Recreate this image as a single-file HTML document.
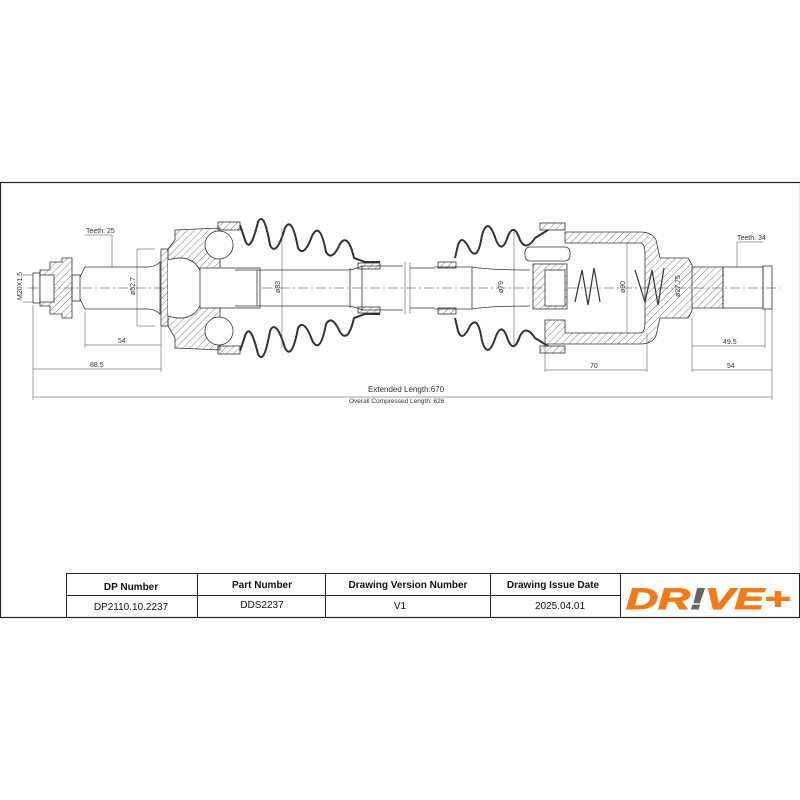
<!DOCTYPE html>
<html><head><meta charset="utf-8"><style>
body{margin:0;background:#fff;width:800px;height:800px;overflow:hidden;font-family:"Liberation Sans",sans-serif}
svg{position:absolute;left:0;top:0}
</style></head><body>
<svg width="800" height="800" viewBox="0 0 800 800" xmlns="http://www.w3.org/2000/svg">
<defs>
<pattern id="h" width="5" height="5" patternUnits="userSpaceOnUse" patternTransform="rotate(45)">
<line x1="0" y1="0" x2="0" y2="5" stroke="#444" stroke-width="0.7"/></pattern>
</defs>
<rect x="0.5" y="182.5" width="800" height="435" fill="none" stroke="#222" stroke-width="1.2"/>
<g stroke="#333" fill="none" stroke-width="0.8">
<line x1="28" y1="288" x2="780" y2="288" stroke-dasharray="10,3,2,3" stroke-width="0.5"/>
<rect x="33" y="273" width="7" height="30"/>
<path d="M40 270 H50 V262 H62 V258 H72 V318 H62 V314 H50 V306 H40 Z" fill="url(#h)"/>
<rect x="40" y="275" width="14" height="27" fill="#fff"/>
<rect x="72" y="275" width="8" height="26"/>
<path d="M80 277 L85 267 H148 Q155 267 160 262 V314 Q155 309 148 309 H85 L80 299"/>
<rect x="161" y="249" width="7" height="77" fill="url(#h)"/>
<path d="M168 249 L175 240 V230 L220 228 V350 L175 348 V338 L168 326 Z" fill="url(#h)"/>
<path d="M168 260 Q200 250 205 288 Q200 326 168 316" fill="#fff"/>
<circle cx="219" cy="245" r="14" fill="#fff"/>
<circle cx="219" cy="331" r="14" fill="#fff"/>
<rect x="200" y="268" width="60" height="40" fill="#fff"/>
<rect x="218" y="222" width="22" height="8" fill="url(#h)"/>
<rect x="218" y="346" width="22" height="8" fill="url(#h)"/>
<g stroke-width="2">
<path d="M240 225 L245 240 Q250 255 258 222 Q264 210 270 245 Q276 258 285 228 Q292 215 298 248 Q304 258 312 236 Q320 220 326 252 Q332 262 340 244 Q348 232 354 258 L365 262 H380"/>
<path d="M240 351 L245 336 Q250 321 258 354 Q264 366 270 331 Q276 318 285 348 Q292 361 298 328 Q304 318 312 340 Q320 356 326 324 Q332 314 340 332 Q348 344 354 318 L365 314 H380"/>
</g>
<rect x="358" y="263" width="22" height="6" fill="url(#h)"/>
<rect x="358" y="307" width="22" height="6" fill="url(#h)"/>
<path d="M235 270 H350 Q358 268 362 266 H403 M235 306 H350 Q358 308 362 310 H403"/>
<line x1="257" y1="270" x2="257" y2="306"/>
<line x1="350" y1="268" x2="350" y2="308"/>
<line x1="362" y1="266" x2="362" y2="310"/>
<line x1="405" y1="262" x2="405" y2="314" stroke-width="0.5"/><line x1="410" y1="262" x2="410" y2="314" stroke-width="0.5"/>
<path d="M410 268 H435 M410 308 H435"/>
<path d="M435 267 H472 Q490 270 530 270 M435 309 H472 Q490 306 530 306"/>
<line x1="472" y1="267" x2="472" y2="309"/>
<g stroke-width="2">
<path d="M455 258 L458 245 Q462 233 470 250 Q478 262 482 235 Q488 215 496 240 Q502 255 508 236 Q514 222 520 240 Q526 252 535 238 L548 230"/>
<path d="M455 318 L458 331 Q462 343 470 326 Q478 314 482 341 Q488 361 496 336 Q502 321 508 340 Q514 354 520 336 Q526 324 535 338 L548 346"/>
</g>
<rect x="438" y="262" width="18" height="6" fill="url(#h)"/>
<rect x="438" y="308" width="18" height="6" fill="url(#h)"/>
<rect x="540" y="223" width="25" height="7" fill="url(#h)"/>
<rect x="540" y="346" width="25" height="7" fill="url(#h)"/>
<path d="M565 232 H640 Q652 232 656 240 L660 258 H688 L692 265 V311 L688 318 H660 L656 336 Q652 344 640 344 H545 V320 H565 V333 H640 Q645 333 645 322 V254 Q645 243 640 243 H565 Z" fill="url(#h)"/>
<rect x="525" y="247" width="45" height="14" rx="5" fill="#fff"/>
<rect x="533" y="264" width="34" height="45" fill="url(#h)"/>
<rect x="545" y="270" width="20" height="36" fill="#fff"/>
<path d="M575 302 L582 270 L588 305 L594 268 L600 302" stroke-width="1.2"/>
<path d="M635 270 L645 302 L652 270 L658 305 L664 268" stroke-width="1.2"/>
<path d="M692 267 H723 V308 H692" fill="url(#h)"/>
<rect x="723" y="267" width="40" height="41"/>
<rect x="763" y="266" width="9" height="43"/>
</g>
<g stroke="#444" stroke-width="0.5" fill="none">
<line x1="85" y1="312" x2="85" y2="348"/><line x1="161" y1="326" x2="161" y2="372"/>
<line x1="85" y1="345" x2="161" y2="345"/>
<line x1="33" y1="305" x2="33" y2="400"/>
<line x1="33" y1="369" x2="161" y2="369"/>
<line x1="33" y1="397" x2="772" y2="397"/>
<line x1="137" y1="249" x2="137" y2="326"/><line x1="137" y1="249" x2="155" y2="249"/><line x1="137" y1="326" x2="155" y2="326"/>
<line x1="112" y1="267" x2="112" y2="235"/><line x1="85" y1="235" x2="112" y2="235"/>
<line x1="282" y1="228" x2="282" y2="348"/>
<line x1="514" y1="232" x2="514" y2="344"/>
<line x1="627" y1="243" x2="627" y2="333"/>
<line x1="545" y1="344" x2="545" y2="372"/><line x1="647" y1="333" x2="647" y2="372"/>
<line x1="545" y1="370" x2="647" y2="370"/>
<line x1="692" y1="318" x2="692" y2="372"/><line x1="765" y1="309" x2="765" y2="348"/><line x1="772" y1="309" x2="772" y2="400"/>
<line x1="692" y1="346" x2="765" y2="346"/><line x1="692" y1="370" x2="772" y2="370"/>
<line x1="737" y1="242" x2="763" y2="242"/><line x1="737" y1="242" x2="737" y2="267"/>
<line x1="23" y1="275" x2="33" y2="275"/><line x1="23" y1="302" x2="33" y2="302"/>
</g>
<g font-family="Liberation Sans" font-size="7" fill="#333">
<text x="86" y="233">Teeth: 25</text>
<text x="737" y="240">Teeth: 34</text>
<text x="118" y="343">54</text>
<text x="90" y="367">88.5</text>
<text x="590" y="368">70</text>
<text x="723" y="344">49.5</text>
<text x="727" y="368">54</text>
<text x="368" y="392" font-size="8">Extended  Length:670</text>
<text x="349" y="403" font-size="6.5">Overall  Compressed  Length: 626</text>
<text transform="translate(22,300) rotate(-90)">M20X1.5</text>
<text transform="translate(135,295) rotate(-90)">ø52.7</text>
<text transform="translate(280,293) rotate(-90)">ø83</text>
<text transform="translate(503,293) rotate(-90)">ø79</text>
<text transform="translate(625,293) rotate(-90)">ø90</text>
<text transform="translate(680,297) rotate(-90)">ø27.75</text>
</g>
<g stroke="#222" stroke-width="1" fill="none">
<rect x="66.5" y="573.5" width="733" height="44"/>
<line x1="66" y1="595.5" x2="620" y2="595.5"/>
<line x1="197.5" y1="573" x2="197.5" y2="617"/>
<line x1="325.5" y1="573" x2="325.5" y2="617"/>
<line x1="490.5" y1="573" x2="490.5" y2="617"/>
<line x1="620.5" y1="573" x2="620.5" y2="617"/>
</g>
<g font-size="10" fill="#111" text-anchor="middle">
<text x="131" y="590" font-weight="bold">DP Number</text>
<text x="262" y="588" font-weight="bold">Part Number</text>
<text x="408" y="588" font-weight="bold">Drawing Version Number</text>
<text x="553" y="588" font-weight="bold">Drawing Issue Date</text>
<text x="131" y="610">DP2110.10.2237</text>
<text x="262" y="608">DDS2237</text>
<text x="400" y="609">V1</text>
<text x="560" y="609">2025.04.01</text>
</g>
<text x="626" y="609" font-size="30" font-weight="bold" font-style="italic" fill="#f07b1a" stroke="#f07b1a" stroke-width="1" textLength="164" lengthAdjust="spacingAndGlyphs">DR<tspan fill="#666" stroke="#666">!</tspan>VE+</text>
</svg>
</body></html>
